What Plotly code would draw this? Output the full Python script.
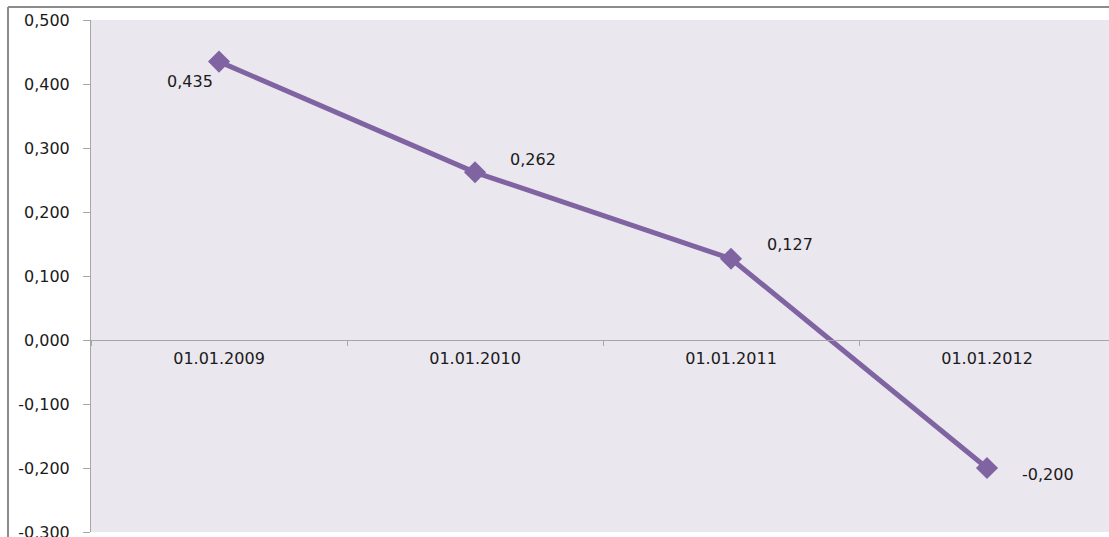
import plotly.graph_objects as go

# Values shown on the chart
dates = ["01.01.2009", "01.01.2010", "01.01.2011", "01.01.2012"]
values = [0.435, 0.262, 0.127, -0.200]
value_labels = ["0,435", "0,262", "0,127", "-0,200"]
y_ticks = [0.5, 0.4, 0.3, 0.2, 0.1, 0.0, -0.1, -0.2, -0.3]
y_tick_labels = ["0,500", "0,400", "0,300", "0,200", "0,100", "0,000",
                 "-0,100", "-0,200", "-0,300"]

# Offsets (px) of each value label from its marker
label_dx = [-29, 58, 59, 61]
label_dy = [-20, 13, 14, -6]

W, H = 1109, 537
ML, MR, MT, MB = 91, 0, 20, 5
plot_w = W - ML - MR
plot_h = H - MT - MB
cat_px = 256  # width of one category slot

LINE = "#8064A2"
AXIS = "#A6A6A6"
FONT = dict(family="DejaVu Sans", size=16, color="#1a1a1a")

fig = go.Figure()
fig.add_trace(go.Scatter(
    x=dates,
    y=values,
    mode="lines+markers",
    line=dict(color=LINE, width=5),
    marker=dict(symbol="diamond", size=17, color=LINE),
    hoverinfo="skip",
))

for d, v, t, dx, dy in zip(dates, values, value_labels, label_dx, label_dy):
    fig.add_annotation(x=d, y=v, text=t, showarrow=False, font=FONT,
                       xshift=dx, yshift=dy)

ymin, ymax = -0.3, 0.5
zero_pos = (0 - ymin) / (ymax - ymin)

fig.update_layout(
    width=W, height=H,
    margin=dict(l=ML, r=MR, t=MT, b=MB, pad=0, autoexpand=False),
    paper_bgcolor="white",
    plot_bgcolor="#EAE7EF",
    showlegend=False,
    xaxis=dict(
        type="category",
        range=[-0.5, -0.5 + plot_w / cat_px],
        tickson="boundaries",
        ticks="outside", ticklen=5, tickcolor=AXIS,
        showline=True, linecolor=AXIS, linewidth=1,
        showgrid=False, zeroline=False,
        anchor="free", position=zero_pos,
        tickfont=FONT,
        ticklabelstandoff=4,
        automargin=False,
    ),
    yaxis=dict(
        range=[ymin, ymax],
        tickmode="array",
        tickvals=y_ticks,
        ticktext=y_tick_labels,
        ticks="outside", ticklen=7, tickcolor=AXIS,
        showline=True, linecolor=AXIS, linewidth=1,
        showgrid=False, zeroline=False,
        tickfont=FONT,
        ticklabelstandoff=10,
        ticklabeloverflow="allow",
        automargin=False,
    ),
)

# Chart frame: top and left border lines
left_x = (8 - ML) / plot_w
top_y = (H - MB - 7) / plot_h
bottom_y = -MB / plot_h
right_x = (W - ML) / plot_w
fig.add_shape(type="line", xref="paper", yref="paper",
              x0=left_x, x1=right_x, y0=top_y, y1=top_y,
              line=dict(color="#8C8C8C", width=2))
fig.add_shape(type="line", xref="paper", yref="paper",
              x0=left_x, x1=left_x, y0=top_y, y1=bottom_y,
              line=dict(color="#8C8C8C", width=2))

fig.write_html("out.html")
